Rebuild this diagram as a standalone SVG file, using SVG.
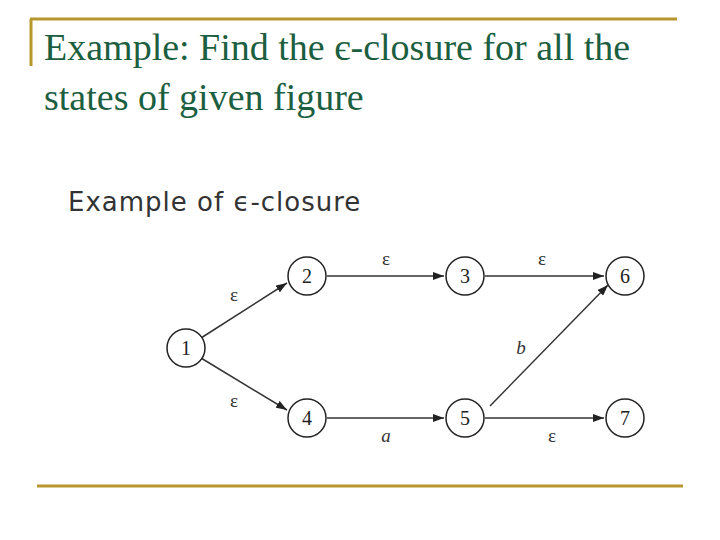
<svg xmlns="http://www.w3.org/2000/svg" width="720" height="540" viewBox="0 0 720 540">
<style>
.t{font-family:"Liberation Serif",serif;font-size:38px;fill:#1b5e40}
.n circle{fill:#fff;stroke:#222;stroke-width:1.5}
.n text{font-family:"Liberation Serif",serif;font-size:20px;fill:#222;text-anchor:middle}
.e line{stroke:#333;stroke-width:1.5;marker-end:url(#a)}
.l{font-family:"Liberation Serif",serif;font-size:19px;fill:#333;text-anchor:middle}
</style>
<defs><marker id="a" markerWidth="11" markerHeight="8" refX="11" refY="4" orient="auto" markerUnits="userSpaceOnUse"><path d="M0,0L11,4L0,8z" fill="#222"/></marker></defs>
<rect width="720" height="540" fill="#fff"/>
<path d="M30,19H677M31,19V66M37,486H683" stroke="#b8962e" stroke-width="3" fill="none"/>
<text class="t" x="44" y="60">Example: Find the є-closure for all the</text>
<text class="t" x="44" y="110">states of given figure</text>
<text x="68" y="211" font-family="DejaVu Sans,sans-serif" font-size="26" letter-spacing="1" fill="#333">Example of ϵ-closure</text>
<g id="edges" class="e">
<line x1="201" y1="338" x2="287" y2="283"/>
<line x1="201" y1="358" x2="287" y2="410"/>
<line x1="327" y1="276" x2="444" y2="276"/>
<line x1="485" y1="276" x2="604" y2="276"/>
<line x1="327" y1="418" x2="444" y2="418"/>
<line x1="485" y1="418" x2="604" y2="418"/>
<line x1="490" y1="406" x2="608" y2="285"/>
</g>
<g class="l">
<text x="234" y="301">ε</text><text x="234" y="407">ε</text>
<text x="386" y="265">ε</text><text x="542" y="265">ε</text>
<text x="386" y="442" font-style="italic">a</text><text x="552" y="442">ε</text>
<text x="521" y="354" font-style="italic">b</text>
</g>
<g id="n1" class="n"><circle cx="186" cy="348" r="19"/><text x="186" y="355">1</text></g>
<g id="n2" class="n"><circle cx="307" cy="276" r="19"/><text x="307" y="283">2</text></g>
<g id="n3" class="n"><circle cx="465" cy="276" r="19"/><text x="465" y="283">3</text></g>
<g id="n6" class="n"><circle cx="625" cy="276" r="19"/><text x="625" y="283">6</text></g>
<g id="n4" class="n"><circle cx="307" cy="418" r="19"/><text x="307" y="425">4</text></g>
<g id="n5" class="n"><circle cx="465" cy="418" r="19"/><text x="465" y="425">5</text></g>
<g id="n7" class="n"><circle cx="625" cy="418" r="19"/><text x="625" y="425">7</text></g>
</svg>
